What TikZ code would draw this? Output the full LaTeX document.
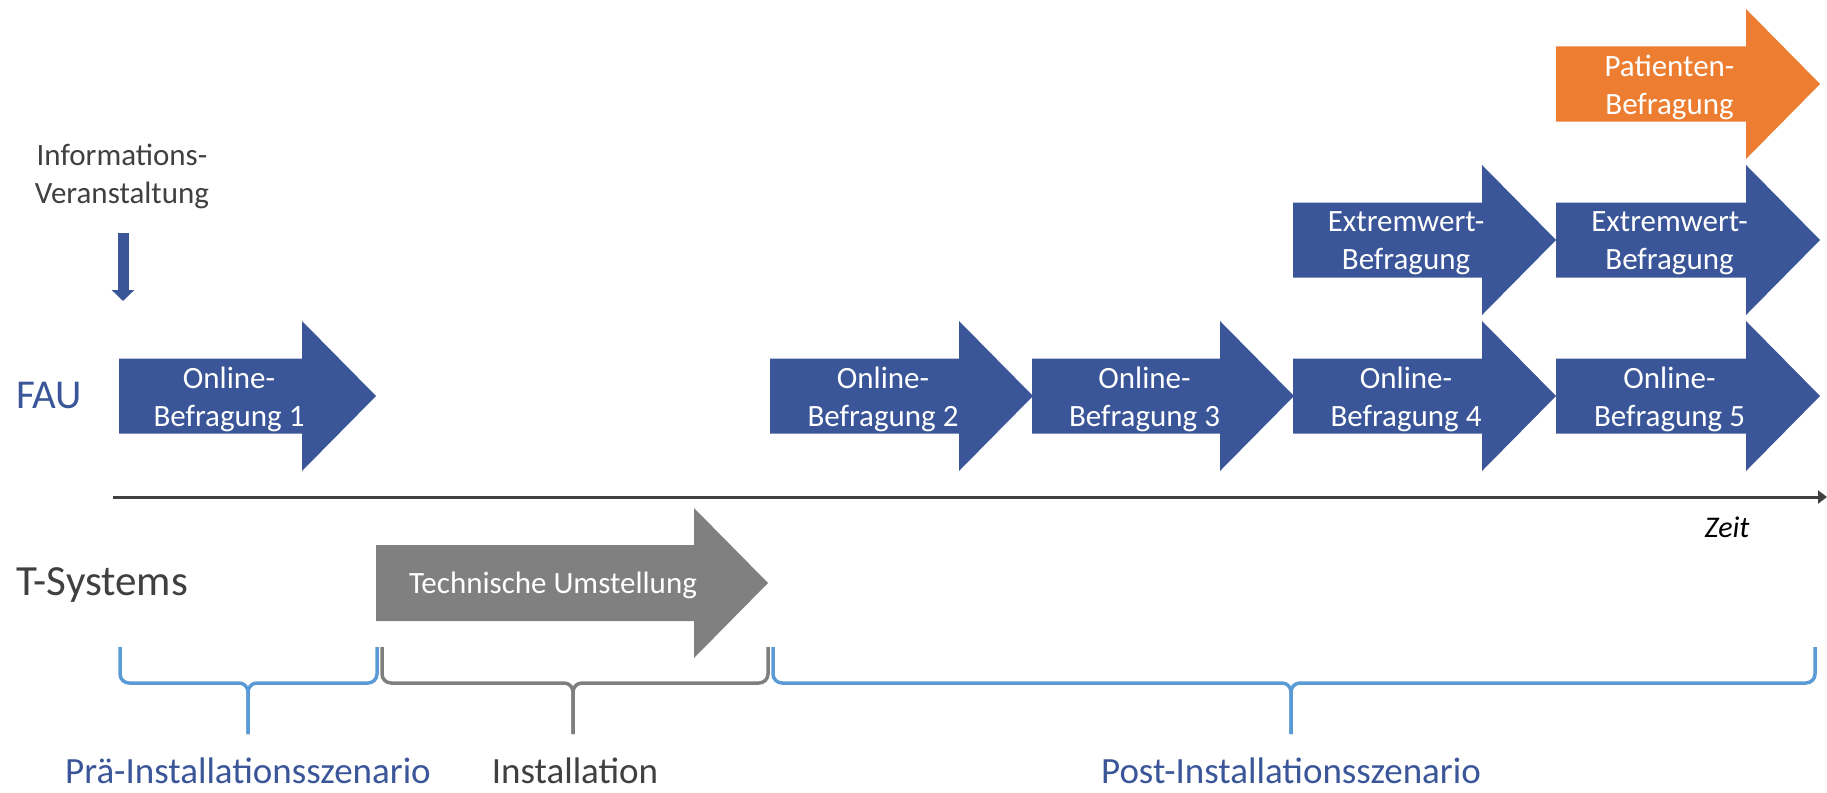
\documentclass[tikz,border=0pt]{standalone}
\usepackage{fontspec}
\setmainfont{Carlito}
\usepackage{tikz}
\usetikzlibrary{arrows.meta}

\definecolor{faublau}{HTML}{3A5699}
\definecolor{patorange}{HTML}{ED7D31}
\definecolor{techgrau}{HTML}{808080}
\definecolor{textgrau}{HTML}{404040}
\definecolor{klblau}{HTML}{5B9BD5}
\definecolor{klgrau}{HTML}{7F7F7F}

% block arrow: colour, name, left x, centre y, length, text
\newcommand{\pfeil}[6]{%
	\fill[#1] (#3,#4-37.5) -- (#3+#5-74,#4-37.5) -- (#3+#5-74,#4-75) -- (#3+#5,#4)
		-- (#3+#5-74,#4+75) -- (#3+#5-74,#4+37.5) -- (#3,#4+37.5) -- cycle;
	\node[pfeiltext] (#2) at (#3+#5/2-18.5,#4+3) {#6};
}
% brace: colour, left x, tip x, right x
\newcommand{\klammer}[4]{%
	\draw[klammerlinie,#1] (#2,647) -- (#2,683) -- (#3,683) -- (#3,734);
	\draw[klammerlinie,#1] (#4,647) -- (#4,683) -- (#3,683) -- (#3,734);
}

\begin{document}
\begin{tikzpicture}[x=1pt,y=-1pt,
	pfeiltext/.style={text=white,align=center,inner sep=0pt,font=\fontsize{31}{38}\selectfont},
	zeile/.style={inner sep=0pt,font=\fontsize{43}{50}\selectfont},
	beschriftung/.style={inner sep=0pt,anchor=base,font=\fontsize{37}{44}\selectfont},
	klammerlinie/.style={line width=3.5pt,rounded corners=9pt}]

	\useasboundingbox (0,0) rectangle (1827,792);

	% rows
	\node[zeile,text=faublau,anchor=base west,font=\fontsize{41}{48}\selectfont] (fau) at (16,408) {FAU};
	\node[zeile,text=textgrau,anchor=base west] (tsys) at (16,595) {T-Systems};

	% information event
	\node[inner sep=0pt,align=center,text=textgrau,font=\fontsize{31}{38}\selectfont] (info) at (122,176) {Informations-\\Veranstaltung};
	\coordinate (infostart) at (123,233);
	\coordinate (infospitze) at (123,301);
	\draw[faublau,line width=11pt,-{Triangle[length=11pt,width=22pt]}] (infostart) -- (infospitze);

	% time axis
	\coordinate (achse0) at (113,497);
	\coordinate (achse1) at (1827,497);
	\draw[textgrau,line width=3pt,-{Triangle[length=9pt,width=13pt]}] (achse0) -- (achse1);
	\node[inner sep=0pt,anchor=base,font=\fontsize{30}{36}\selectfont\itshape] (zeit) at (1727,537) {Zeit};

	% FAU surveys
	\pfeil{faublau}{onl1}{119}{396}{257}{Online-\\Befragung 1}
	\pfeil{faublau}{onl2}{770}{396}{263}{Online-\\Befragung 2}
	\pfeil{faublau}{onl3}{1032}{396}{262}{Online-\\Befragung 3}
	\pfeil{faublau}{onl4}{1293}{396}{263}{Online-\\Befragung 4}
	\pfeil{faublau}{onl5}{1556}{396}{264}{Online-\\Befragung 5}
	\pfeil{faublau}{ext1}{1293}{240}{263}{Extremwert-\\Befragung}
	\pfeil{faublau}{ext2}{1556}{240}{264}{Extremwert-\\Befragung}
	\pfeil{patorange}{pat}{1556}{84}{264}{Patienten-\\Befragung}

	% T-Systems
	\fill[techgrau] (376,545) -- (694,545) -- (694,508) -- (768,583) -- (694,658) -- (694,621) -- (376,621) -- cycle;
	\node[inner sep=0pt,anchor=base,text=white,font=\fontsize{31}{38}\selectfont] (tech) at (553,593) {Technische Umstellung};

	% phases
	\klammer{klblau}{120}{248}{377}
	\klammer{klgrau}{382}{573}{768}
	\klammer{klblau}{773}{1291}{1815}
	\node[beschriftung,text=faublau] (prae) at (248,783) {Prä-Installationsszenario};
	\node[beschriftung,text=textgrau] (inst) at (575,783) {Installation};
	\node[beschriftung,text=faublau] (post) at (1291,783) {Post-Installationsszenario};

\end{tikzpicture}
\end{document}
